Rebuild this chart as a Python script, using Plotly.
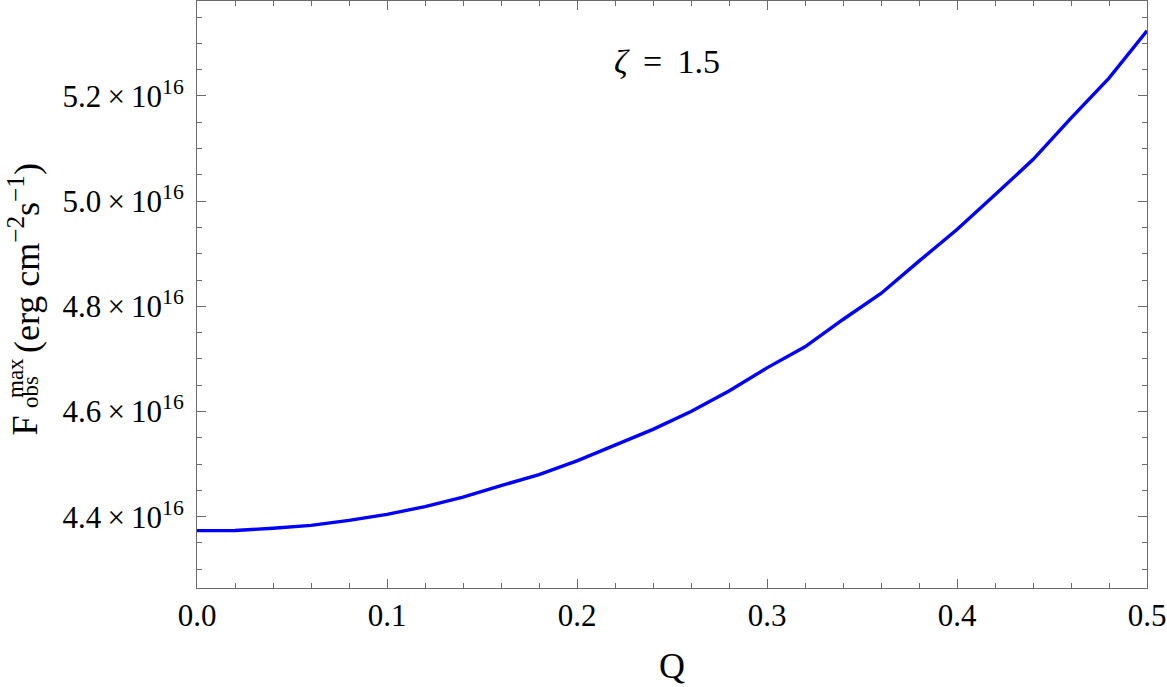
import plotly.graph_objects as go

# Data
Q = [0.00, 0.02, 0.04, 0.06, 0.08, 0.10, 0.12, 0.14, 0.16, 0.18, 0.20, 0.22, 0.24,
     0.26, 0.28, 0.30, 0.32, 0.34, 0.36, 0.38, 0.40, 0.42, 0.44, 0.46, 0.48, 0.50]
F_max = [4.3735, 4.3737, 4.378, 4.3835, 4.393, 4.4045, 4.419, 4.437, 4.459, 4.480,
         4.506, 4.536, 4.566, 4.600, 4.639, 4.683, 4.723, 4.775, 4.8245, 4.886,
         4.946, 5.012, 5.079, 5.158, 5.234, 5.324]
F_scale = 1e16
y_tick_vals = [4.4, 4.6, 4.8, 5.0, 5.2]
y_tick_text = ["4.4\u2009×\u200910<sup>16</sup>", "4.6\u2009×\u200910<sup>16</sup>",
               "4.8\u2009×\u200910<sup>16</sup>", "5.0\u2009×\u200910<sup>16</sup>",
               "5.2\u2009×\u200910<sup>16</sup>"]
x_tick_vals = [0.0, 0.1, 0.2, 0.3, 0.4, 0.5]
x_tick_text = ["0.0", "0.1", "0.2", "0.3", "0.4", "0.5"]

FONT = "Liberation Serif"
FRAME = "#6a6a6a"

fig = go.Figure()
fig.add_trace(go.Scatter(
    x=Q, y=[v * F_scale for v in F_max], mode="lines",
    line=dict(color="#0000ff", width=3.4), showlegend=False, hoverinfo="skip"))

W, H = 1167, 687
L, R, T, B = 197, 20, 1, 99
fig.update_layout(
    width=W, height=H,
    margin=dict(l=L, r=R, t=T, b=B, pad=0),
    paper_bgcolor="white", plot_bgcolor="white",
    font=dict(family=FONT, color="black", size=31),
    showlegend=False,
)
fig.update_xaxes(
    range=[0, 0.5], showgrid=False, zeroline=False,
    showline=True, linecolor=FRAME, linewidth=1, mirror="allticks",
    ticks="inside", ticklen=9, tickwidth=1, tickcolor=FRAME,
    tickmode="array", tickvals=x_tick_vals, ticktext=x_tick_text,
    tickfont=dict(family=FONT, size=31, color="black"),
    minor=dict(ticks="inside", ticklen=5, tickwidth=1, tickcolor=FRAME,
               dtick=0.02, tick0=0, showgrid=False),
    ticklabelstandoff=0,
)
fig.update_yaxes(
    range=[4.2644 * F_scale, 5.3806 * F_scale], showgrid=False, zeroline=False,
    showline=True, linecolor=FRAME, linewidth=1, mirror="allticks",
    ticks="inside", ticklen=9, tickwidth=1, tickcolor=FRAME,
    tickmode="array", tickvals=[v * F_scale for v in y_tick_vals], ticktext=y_tick_text,
    tickfont=dict(family=FONT, size=31, color="black"),
    minor=dict(ticks="inside", ticklen=5, tickwidth=1, tickcolor=FRAME,
               dtick=0.05 * F_scale, tick0=4.4 * F_scale, showgrid=False),
    ticklabelstandoff=6,
)

plot_h = H - T - B

def py(y_px):
    return (H - B - y_px) / plot_h

# x-axis title
fig.add_annotation(text="Q", xref="paper", yref="paper", x=0.5, y=py(666),
                   xanchor="center", yanchor="middle", showarrow=False,
                   font=dict(family=FONT, size=36, color="black"))
# zeta annotation
fig.add_annotation(text="<i>ζ</i>\u2009 = \u20091.5", xref="paper", yref="paper", x=0.5,
                   y=py(62), xanchor="center", yanchor="middle", showarrow=False, xshift=-5,
                   font=dict(family=FONT, size=34, color="black"))
# y-axis title pieces (rotated)
fig.add_annotation(text="F", xref="paper", yref="paper", x=0, y=py(426),
                   xshift=24.5 - L, xanchor="center", yanchor="middle", textangle=-90,
                   showarrow=False, font=dict(family=FONT, size=36, color="black"))
fig.add_annotation(text="max", xref="paper", yref="paper", x=0, y=py(378),
                   xshift=16 - L, xanchor="center", yanchor="middle", textangle=-90,
                   showarrow=False, font=dict(family=FONT, size=23, color="black"))
fig.add_annotation(text="obs", xref="paper", yref="paper", x=0, y=py(392),
                   xshift=30 - L, xanchor="center", yanchor="middle", textangle=-90,
                   showarrow=False, font=dict(family=FONT, size=23, color="black"))
fig.add_annotation(text="(erg cm<sup>−2</sup>s<sup>−1</sup>)", xref="paper", yref="paper",
                   x=0, y=py(258), xshift=24 - L, xanchor="center", yanchor="middle",
                   textangle=-90, showarrow=False,
                   font=dict(family=FONT, size=36, color="black"))

fig.write_html("out.html", config={"displayModeBar": False},
               post_script="document.body.style.margin='0';document.body.style.overflow='hidden';")
